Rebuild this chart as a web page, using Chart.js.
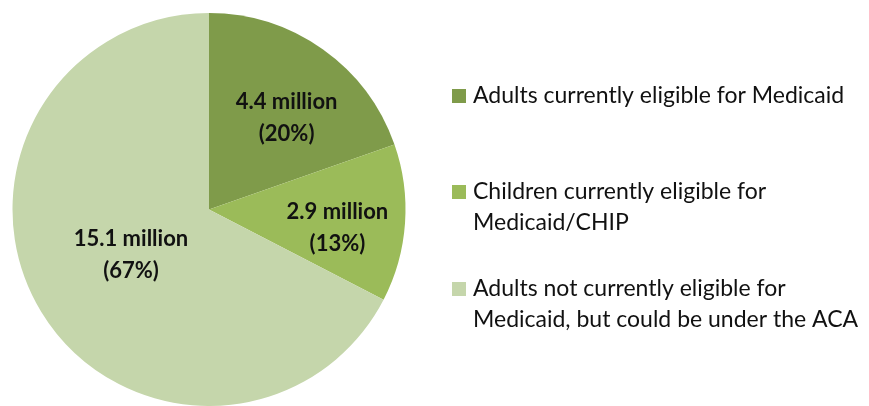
<!DOCTYPE html>
<html>
<head>
<meta charset="utf-8">
<script src="https://cdn.jsdelivr.net/npm/chart.js@4.4.0/dist/chart.umd.min.js"></script>
<style>
  html, body { margin: 0; padding: 0; background: #fff; overflow: hidden; }
  #wrap { width: 869px; height: 406px; }
</style>
</head>
<body>
<div id="wrap"><canvas id="pie"></canvas></div>
<script>
// Data
const categories = [
  ['Adults currently eligible for Medicaid'],
  ['Children currently eligible for', 'Medicaid/CHIP'],
  ['Adults not currently eligible for', 'Medicaid, but could be under the ACA']
];
const valuesMillions = [4.4, 2.9, 15.1];
const percentLabels = ['20%', '13%', '67%'];
const sliceColors = ['#7f9b4a', '#9bbb59', '#c5d6ab'];

// label placement: angle shift (deg) from slice middle, radius fraction
const labelPlace = [
  { shift: 5, r: 0.61 },
  { shift: 4, r: 0.66 },
  { shift: 1, r: 0.46 }
];

const sliceLabels = {
  id: 'sliceLabels',
  afterDatasetsDraw(chart) {
    const ctx = chart.ctx;
    const arcs = chart.getDatasetMeta(0).data;
    ctx.save();
    ctx.font = 'bold 22px Lato';
    ctx.fillStyle = '#111';
    ctx.textAlign = 'center';
    ctx.textBaseline = 'middle';
    arcs.forEach((arc, i) => {
      const p = arc.getProps(['x', 'y', 'startAngle', 'endAngle', 'outerRadius'], true);
      const mid = (p.startAngle + p.endAngle) / 2 + labelPlace[i].shift * Math.PI / 180;
      const r = p.outerRadius * labelPlace[i].r;
      const cx = p.x + Math.cos(mid) * r;
      const cy = p.y + Math.sin(mid) * r;
      ctx.fillText(valuesMillions[i] + ' million', cx, cy - 16);
      ctx.fillText('(' + percentLabels[i] + ')', cx, cy + 16);
    });
    ctx.restore();
  }
};

// legend drawn on the right side
const sideLegend = {
  id: 'sideLegend',
  afterDraw(chart) {
    const ctx = chart.ctx;
    const rowTops = [96, 192, 289];
    ctx.save();
    ctx.font = '23px Lato';
    ctx.textBaseline = 'middle';
    categories.forEach((lines, i) => {
      ctx.fillStyle = sliceColors[i];
      ctx.fillRect(452, rowTops[i] - 7, 14, 14);
      ctx.fillStyle = '#111';
      lines.forEach((line, j) => {
        ctx.fillText(line, 473, rowTops[i] + j * 31);
      });
    });
    ctx.restore();
  }
};

new Chart(document.getElementById('pie'), {
  type: 'pie',
  data: {
    labels: categories.map(c => c.join(' ')),
    datasets: [{
      data: valuesMillions,
      backgroundColor: sliceColors,
      borderWidth: 0
    }]
  },
  options: {
    responsive: true,
    maintainAspectRatio: false,
    animation: false,
    layout: { padding: { left: 12, right: 463, top: 13, bottom: 0 } },
    plugins: {
      legend: { display: false },
      tooltip: { enabled: false }
    }
  },
  plugins: [sliceLabels, sideLegend]
});
</script>
</body>
</html>
